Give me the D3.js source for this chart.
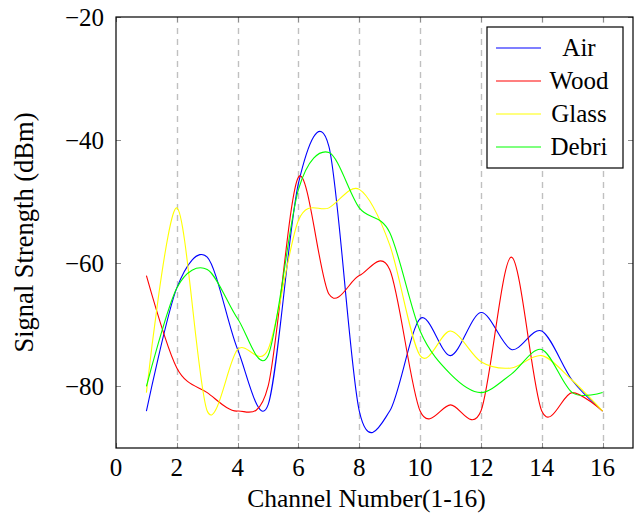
<!DOCTYPE html>
<html>
<head>
<meta charset="utf-8">
<script src="https://cdn.jsdelivr.net/npm/d3@7"></script>
<style>
  html, body { margin: 0; padding: 0; background: #fff; }
  svg { display: block; }
  text { font-family: "Liberation Serif", "Times New Roman", serif; fill: #000; }
</style>
</head>
<body>
<svg id="chart" width="640" height="519"></svg>
<script>
// Channels 1..16 and received signal strength (dBm) per material
const channels = [1, 2, 3, 4, 5, 6, 7, 8, 9, 10, 11, 12, 13, 14, 15, 16];
const air   = [-84, -64, -59, -74, -83, -47, -41, -84, -84, -69, -75, -68, -74, -71, -79, -84];
const wood  = [-62, -77, -81, -84, -80, -46, -65, -62, -61, -84, -83, -84, -59, -84, -81, -84];
const glass = [-81, -51, -84, -74, -74, -53, -51, -48, -57, -75, -71, -76, -77, -75, -79, -84];
const debri = [-80, -64, -61, -69, -75, -48, -42, -51, -55, -71, -78, -81, -78, -74, -81, -81];

const seriesNames = ["Air", "Wood", "Glass", "Debri"];
const seriesColors = ["#0000ff", "#ff0000", "#ffff00", "#00ff00"];
const seriesValues = [air, wood, glass, debri];

const xTicks = [0, 2, 4, 6, 8, 10, 12, 14, 16];
const yTicks = [-80, -60, -40, -20];
const xTitle = "Channel Number(1-16)";
const yTitle = "Signal Strength (dBm)";

const svg = d3.select("#chart");
const plotL = 116, plotR = 633, plotT = 17, plotB = 448;

const x = d3.scaleLinear().domain([0, 17]).range([plotL, plotR]);
const y = d3.scaleLinear().domain([-90, -20]).range([plotB, plotT]);

const fmt = v => (v < 0 ? "\u2212" + Math.abs(v) : String(v));
const snap = v => Math.round(v) + 0.5;

// dashed grid: vertical lines as dashed strokes, horizontal lines as runs of small dashes
const dash = 6, gap = 5;
const grid = svg.append("g");
grid.selectAll("path.vx")
  .data(xTicks.filter(t => t > 0))
  .join("path")
  .attr("class", "vx")
  .attr("fill", "none")
  .attr("stroke", "#c0c0c0").attr("stroke-width", 1.4).attr("stroke-dasharray", `${dash} ${gap}`)
  .attr("d", t => `M${snap(x(t))},${plotT}V${plotB}`);

const hRows = grid.selectAll("g.hy")
  .data(yTicks.filter(t => t > -20))
  .join("g")
  .attr("class", "hy");
hRows.selectAll("rect")
  .data(t => d3.range(plotL, plotR, dash + gap).map(x0 => ({ t, x0 })))
  .join("rect")
  .attr("x", d => d.x0)
  .attr("y", d => Math.round(y(d.t)) - 0.5)
  .attr("width", d => Math.min(dash, plotR - d.x0))
  .attr("height", 1.4)
  .attr("fill", "#c0c0c0");

// inward tick marks on all four sides
const tickLen = 5;
const ticks = svg.append("g").attr("fill", "#8c8c8c");
xTicks.forEach(t => {
  ticks.append("rect").attr("x", Math.round(x(t))).attr("y", plotB - tickLen).attr("width", 1).attr("height", tickLen);
  ticks.append("rect").attr("x", Math.round(x(t))).attr("y", plotT).attr("width", 1).attr("height", tickLen);
});
yTicks.forEach(t => {
  ticks.append("rect").attr("x", plotL).attr("y", Math.round(y(t))).attr("width", tickLen).attr("height", 1);
  ticks.append("rect").attr("x", plotR - tickLen).attr("y", Math.round(y(t))).attr("width", tickLen).attr("height", 1);
});

// smooth curves through the measured points
const line = d3.line()
  .x((d, i) => x(channels[i]))
  .y(d => y(d))
  .curve(d3.curveCardinal.tension(0.08));

const plot = svg.append("g");
seriesValues.forEach((vals, k) => {
  plot.append("path")
    .attr("d", line(vals))
    .attr("fill", "none")
    .attr("stroke", seriesColors[k])
    .attr("stroke-width", 1.1);
});

// frame
svg.append("rect")
  .attr("x", plotL).attr("y", plotT)
  .attr("width", plotR - plotL).attr("height", plotB - plotT)
  .attr("fill", "none").attr("stroke", "#000").attr("stroke-width", 1.2);

// tick labels
svg.append("g").selectAll("text").data(xTicks).join("text")
  .attr("x", d => x(d)).attr("y", 476)
  .attr("text-anchor", "middle")
  .attr("font-size", 25)
  .text(d => fmt(d));

svg.append("g").selectAll("text").data(yTicks).join("text")
  .attr("x", 104).attr("y", d => y(d) + 9)
  .attr("text-anchor", "end")
  .attr("font-size", 25)
  .text(d => fmt(d));

// axis titles
svg.append("text")
  .attr("x", (plotL + plotR) / 2 - 8).attr("y", 507)
  .attr("text-anchor", "middle")
  .attr("font-size", 25.5)
  .text(xTitle);

svg.append("text")
  .attr("transform", `translate(33, ${(plotT + plotB) / 2}) rotate(-90)`)
  .attr("text-anchor", "middle")
  .attr("font-size", 26.5)
  .text(yTitle);

// legend
const lg = svg.append("g");
lg.append("rect")
  .attr("x", 487).attr("y", 27).attr("width", 136).attr("height", 141)
  .attr("fill", "#fff").attr("stroke", "#000").attr("stroke-width", 1.2);
seriesNames.forEach((name, i) => {
  const cy = 48 + i * 33;
  lg.append("line")
    .attr("x1", 496).attr("x2", 541).attr("y1", cy).attr("y2", cy)
    .attr("stroke", seriesColors[i]).attr("stroke-width", 1.1);
  lg.append("text")
    .attr("x", 579).attr("y", cy + 8)
    .attr("text-anchor", "middle")
    .attr("font-size", 25)
    .text(name);
});
</script>
</body>
</html>
